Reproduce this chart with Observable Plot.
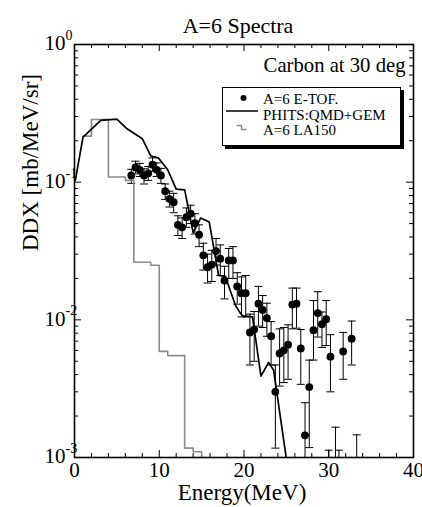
<!DOCTYPE html>
<html><head><meta charset="utf-8">
<script src="https://cdn.jsdelivr.net/npm/d3@7"></script>
<script src="https://cdn.jsdelivr.net/npm/@observablehq/plot@0.6"></script>
<style>body{margin:0;background:#fff} #chart{width:422px;height:507px}</style>
</head><body><div id="chart"></div>
<script>
// ---- Data: A=6 E-TOF measurement ----
const energy = [6.7,7.2,7.7,8.2,8.7,9.2,9.7,10.2,10.7,11.2,11.7,12.2,12.7,13.2,13.7,14.2,14.7,15.2,15.7,16.2,16.7,17.2,17.7,18.2,18.7,19.2,19.7,20.2,20.7,21.2,21.7,22.2,22.7,23.2,23.7,24.2,24.7,25.2,25.7,26.2,26.7,27.2,27.7,28.2,28.7,29.2,29.7,30.2,31.7,32.7];
const ddx = [0.112,0.128,0.123,0.112,0.116,0.134,0.123,0.112,0.086,0.0757,0.0716,0.049,0.047,0.0557,0.059,0.0504,0.0415,0.0294,0.0241,0.0252,0.0316,0.0278,0.0193,0.027,0.027,0.0175,0.0156,0.0156,0.0081,0.0085,0.0131,0.0118,0.0103,0.0076,0.0030,0.0057,0.0060,0.0066,0.0129,0.0131,0.0062,0.00145,0.00325,0.0084,0.0112,0.0093,0.0101,0.0054,0.0059,0.0073];
const errLo = [0.098,0.115,0.110,0.097,0.103,0.120,0.110,0.098,0.075,0.066,0.060,0.041,0.039,0.047,0.050,0.042,0.034,0.023,0.0185,0.019,0.025,0.021,0.0142,0.020,0.020,0.013,0.0105,0.0105,0.0047,0.0050,0.0090,0.0088,0.0076,0.0047,0.00117,0.0033,0.0035,0.0037,0.0086,0.0087,0.0034,0.0004,0.00118,0.0051,0.0075,0.0063,0.0065,0.0030,0.0037,0.0047];
const errHi = [0.124,0.142,0.137,0.125,0.130,0.150,0.138,0.126,0.097,0.086,0.083,0.057,0.055,0.065,0.068,0.059,0.049,0.036,0.030,0.032,0.039,0.035,0.0245,0.033,0.034,0.022,0.0205,0.021,0.0110,0.0115,0.0175,0.0150,0.0132,0.0097,0.0047,0.0086,0.0088,0.0092,0.0170,0.0170,0.0085,0.0025,0.0051,0.0138,0.0160,0.0114,0.0138,0.0078,0.0081,0.0098];
// bins whose value lies below the axis: only the upper part of the error bar shows
const hiddenEnergy = [30.0,30.8,31.2,33.3];
const hiddenLo = [0.0004,0.0004,0.0004,0.0004];
const hiddenHi = [0.00113,0.00166,0.00113,0.00146];

// ---- PHITS:QMD+GEM ----
const phitsE = [0.1,1.0,3.1,5.0,6.2,8.0,9.0,9.9,11.0,12.0,13.0,14.0,14.9,15.9,17.0,17.8,18.3,19.0,19.6,19.9,21.0,22.0,22.9,23.5,25.2];
const phitsV = [0.103,0.212,0.281,0.287,0.244,0.207,0.155,0.150,0.123,0.089,0.088,0.043,0.055,0.0513,0.021,0.0207,0.0168,0.0127,0.0111,0.0107,0.0105,0.0039,0.0049,0.0043,0.0008];

// ---- A=6 LA150 (histogram, left bin edges) ----
const laE = [1,2,4,6,7,9,10,11,13,14,15];
const laV = [0.216,0.285,0.109,0.103,0.0262,0.0249,0.0059,0.0055,0.00117,0.0011,0.0003];

// ---- Axes ----
const xMajor = [0,10,20,30,40];
const xMinor = [2,4,6,8,12,14,16,18,22,24,26,28,32,34,36,38];
const yMajor = [1e-3,1e-2,1e-1,1];
const yExp = ["-3","-2","-1","0"];
const yMinor = [];
for (const d of [1e-3,1e-2,1e-1]) for (const m of [2,3,4,5,6,7,8,9]) yMinor.push(d*m);

const legendLabels = ["A=6 E-TOF.","PHITS:QMD+GEM","A=6 LA150"];

const W=422,H=507,mL=74,mR=9,mT=44,mB=50;
const fw=W-mL-mR, fh=H-mT-mB;
const FONT = "'Liberation Serif','Times New Roman',serif";

const pts = energy.map((e,i)=>({e, v:ddx[i], lo:errLo[i], hi:errHi[i]}));
const bars = pts.concat(hiddenEnergy.map((e,i)=>({e, lo:hiddenLo[i], hi:hiddenHi[i]})));
const phits = phitsE.map((e,i)=>({e, v:phitsV[i]}));
const la = laE.map((e,i)=>({e, v:laV[i]}));
const cap = {draw(ctx){ ctx.moveTo(-4,0); ctx.lineTo(4,0); }};

const plot = Plot.plot({
  width: W, height: H, marginLeft: mL, marginRight: mR, marginTop: mT, marginBottom: mB,
  style: {fontFamily: FONT, background: "white", color: "black", overflow: "visible"},
  x: {domain: [0,40], axis: null},
  y: {type: "log", domain: [1e-3,1], axis: null},
  marks: [
    Plot.ruleX(bars, {x:"e", y1:"lo", y2:"hi", stroke:"black", strokeWidth:1, clip:true}),
    Plot.dot(bars, {x:"e", y:"hi", symbol:cap, stroke:"black", strokeWidth:1, clip:true}),
    Plot.dot(pts, {x:"e", y:"lo", symbol:cap, stroke:"black", strokeWidth:1, clip:true}),
    Plot.line(la, {x:"e", y:"v", curve:"step-after", stroke:"#8a8a8a", strokeWidth:1.6, clip:true}),
    Plot.line(phits, {x:"e", y:"v", stroke:"black", strokeWidth:1.7, clip:true}),
    Plot.dot(pts, {x:"e", y:"v", r:3.9, fill:"black", stroke:"none", clip:true}),
    // inward ticks
    Plot.tickX(xMajor, {x:d=>d, insetTop: fh-7, stroke:"black", strokeWidth:1}),
    Plot.tickX(xMajor, {x:d=>d, insetBottom: fh-7, stroke:"black", strokeWidth:1}),
    Plot.tickX(xMinor, {x:d=>d, insetTop: fh-4, stroke:"black", strokeWidth:1}),
    Plot.tickX(xMinor, {x:d=>d, insetBottom: fh-4, stroke:"black", strokeWidth:1}),
    Plot.tickY(yMajor, {y:d=>d, insetRight: fw-7, stroke:"black", strokeWidth:1}),
    Plot.tickY(yMajor, {y:d=>d, insetLeft: fw-7, stroke:"black", strokeWidth:1}),
    Plot.tickY(yMinor, {y:d=>d, insetRight: fw-4, stroke:"black", strokeWidth:1}),
    Plot.tickY(yMinor, {y:d=>d, insetLeft: fw-4, stroke:"black", strokeWidth:1}),
    Plot.frame({stroke:"black", strokeWidth:1.6}),
    // tick labels
    Plot.text(xMajor, {x:d=>d, text:d=>String(d), frameAnchor:"bottom", lineAnchor:"bottom", dy:19, fontSize:21}),
    Plot.text(yMajor, {y:d=>d, text:()=>"10", frameAnchor:"left", textAnchor:"end", dx:-9, dy:-1, fontSize:21}),
    Plot.text(yMajor, {y:d=>d, text:(d,i)=>yExp[i], frameAnchor:"left", textAnchor:"start", dx:-9, dy:-9, fontSize:14}),
    // titles
    Plot.text(["A=6 Spectra"], {text:d=>d, frameAnchor:"top", lineAnchor:"bottom", dx:-6, dy:-12, fontSize:22}),
    Plot.text(["Energy(MeV)"], {text:d=>d, frameAnchor:"bottom", lineAnchor:"bottom", dx:-2, dy:42, fontSize:23}),
    Plot.text(["DDX [mb/MeV/sr]"], {text:d=>d, frameAnchor:"left", rotate:-90, dx:-44, fontSize:23}),
    Plot.text(["Carbon at 30 deg"], {text:d=>d, frameAnchor:"top-right", textAnchor:"end", lineAnchor:"bottom", dx:-8, dy:27, fontSize:20.7})
  ]
});

// legend box
const svg = d3.select(plot);
const g = svg.append("g").attr("font-family", FONT).attr("font-size", 15).attr("fill","black").attr("text-anchor","start");
g.append("rect").attr("x",225).attr("y",90).attr("width",179).attr("height",59).attr("fill","black");
g.append("rect").attr("x",222.5).attr("y",87.5).attr("width",178).attr("height",58).attr("fill","white").attr("stroke","black").attr("stroke-width",1);
g.append("circle").attr("cx",243.5).attr("cy",98).attr("r",3).attr("fill","black");
g.append("text").attr("x",263).attr("y",104).attr("text-anchor","start").text(legendLabels[0]);
g.append("line").attr("x1",226).attr("x2",258).attr("y1",111).attr("y2",111).attr("stroke","black").attr("stroke-width",1.5);
g.append("text").attr("x",263).attr("y",119.5).attr("text-anchor","start").text(legendLabels[1]);
g.append("path").attr("d","M236.5,125.5H241.5V129.5H246.5").attr("fill","none").attr("stroke","#8a8a8a").attr("stroke-width",1.5);
g.append("text").attr("x",263).attr("y",135).attr("text-anchor","start").text(legendLabels[2]);

document.getElementById("chart").appendChild(plot);
</script>
</body></html>
